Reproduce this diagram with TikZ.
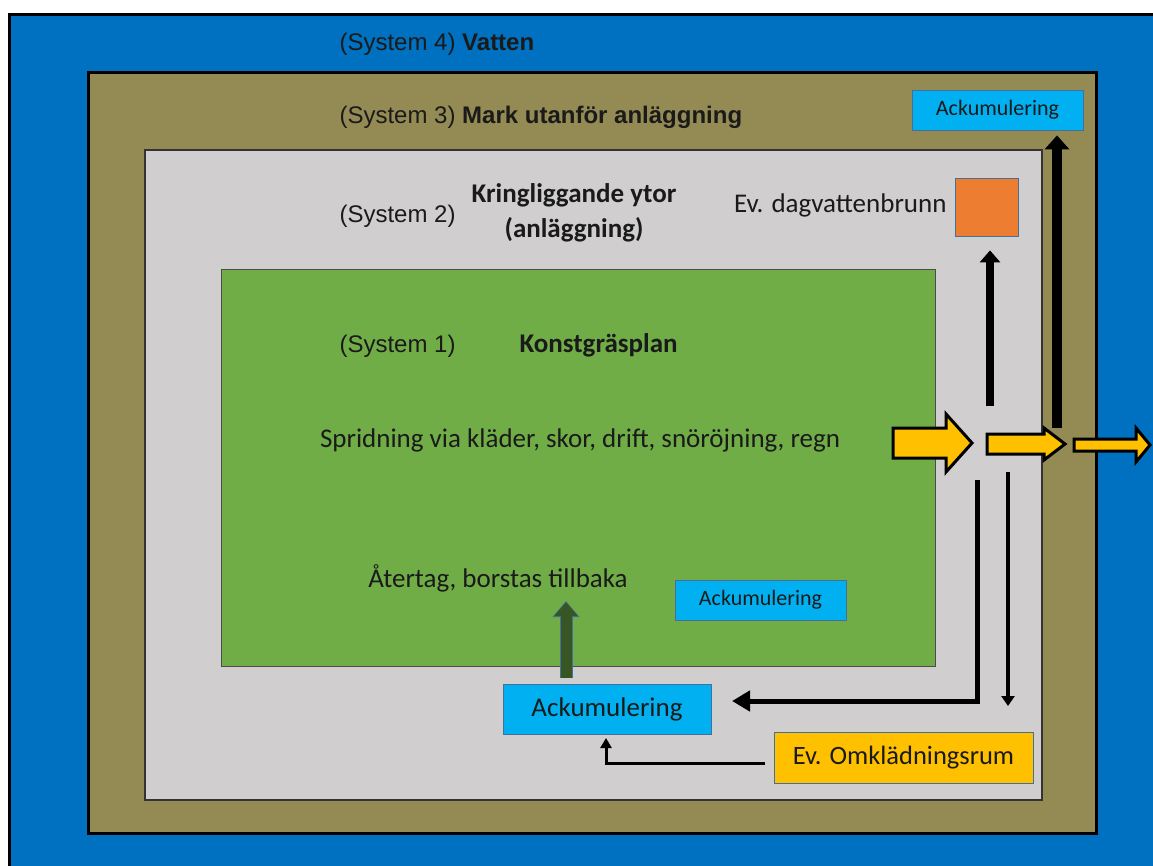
\documentclass[tikz,border=0pt]{standalone}
\usepackage{fontspec}
\setmainfont{Carlito}
\newfontfamily\arialfont{Liberation Sans}
\usetikzlibrary{arrows.meta, positioning, calc}
\definecolor{vatten}{HTML}{0070C0}
\definecolor{mark}{HTML}{948A54}
\definecolor{ytor}{HTML}{D0CECE}
\definecolor{plan}{HTML}{70AD47}
\definecolor{ackblue}{HTML}{00B0F0}
\definecolor{brunn}{HTML}{ED7D31}
\definecolor{omkl}{HTML}{FFC000}
\definecolor{dkgreen}{HTML}{375623}
\definecolor{edgeblue}{HTML}{41719C}
\definecolor{txt}{HTML}{1A1A1A}

% yellow block arrow: tail x, tip x, mid y, shaft half, head half, head length
\newcommand{\flowarrow}[6]{%
  \draw[flowblock] (#1,#3-#4) -- (#2-#6,#3-#4) -- (#2-#6,#3-#5) -- (#2,#3)
    -- (#2-#6,#3+#5) -- (#2-#6,#3+#4) -- (#1,#3+#4) -- cycle;}

\begin{document}
\begin{tikzpicture}[x=1pt, y=-1pt,
  sysfont/.style={font=\arialfont\fontsize{24}{26}\selectfont},
  label/.style={text=txt, font=\fontsize{27}{32}\selectfont},
  ackbox/.style={draw=edgeblue, line width=0.8pt, fill=ackblue, text=txt, inner sep=0pt},
  flowblock/.style={draw=black, fill=omkl, line width=3pt, line join=miter},
  heavyflow/.style={draw=black, -{Triangle[width=24pt, length=14pt]}}]

\useasboundingbox (0,0) rectangle (1153,866);
\clip (0,0) rectangle (1153,866);
\fill[white] (0,0) rectangle (1153,866);

% System 4: Vatten
\draw[fill=vatten, line width=3pt] (9.5,14.5) rectangle (1175,885);
% System 3: Mark
\draw[fill=mark, line width=3pt] (88.5,72.5) rectangle (1096.5,833.5);
% System 2: Kringliggande ytor
\draw[fill=ytor, draw=black!80, line width=1.2pt] (145,150) rectangle (1042,800);
% System 1: Konstgraesplan
\draw[fill=plan, draw=black!70, line width=1pt] (221,270) rectangle (935,666);

% Headings
\node[sysfont, text=txt, anchor=west] (sys4) at (336,44) {(System 4) \textbf{Vatten}};
\node[sysfont, text=txt, anchor=west] (sys3) at (336,117) {(System 3) \textbf{Mark utanför anläggning}};
\node[sysfont, text=txt, anchor=west] (sys2) at (336,216) {(System 2)};
\node[label, font=\fontsize{27}{35}\selectfont\bfseries, align=center] (ytor) at (574,213) {Kringliggande ytor\\(anläggning)};
\node[sysfont, text=txt, anchor=west] (sys1) at (336,346) {(System 1)};
\node[label, font=\fontsize{27}{32}\selectfont\bfseries, anchor=west] (plan) at (516,345) {Konstgräsplan};

% Texts in the field
\node[label] (spridning) at (580,440) {Spridning via kläder, skor, drift, snöröjning, regn};
\node[label] (atertag) at (498,578) {Återtag, borstas tillbaka};

% Boxes
\node[ackbox, minimum width=171pt, minimum height=40pt, font=\fontsize{22}{26}\selectfont] (ackTop) at (997.5,110) {Ackumulering};
\node[draw=edgeblue, line width=0.8pt, fill=brunn, minimum width=63pt, minimum height=58pt] (brunnBox) at (986.5,207) {};
\node[label, anchor=east] (brunnText) at (950,205) {Ev. dagvattenbrunn};
\node[ackbox, minimum width=171pt, minimum height=40pt, font=\fontsize{22}{26}\selectfont] (ackPlan) at (760.5,600) {Ackumulering};
\node[ackbox, minimum width=208pt, minimum height=50pt, font=\fontsize{27}{32}\selectfont] (ackBot) at (607,709) {Ackumulering};
\node[draw=edgeblue, line width=0.8pt, fill=omkl, text=txt, minimum width=259pt, minimum height=51pt, font=\fontsize{26.5}{31}\selectfont] (omklBox) at (903.5,757.5) {Ev. Omklädningsrum};

% Flow coordinates
\coordinate (backStart) at (566,678);
\coordinate (backEnd) at (566,601);
\coordinate (omklOut) at (765,763);
\coordinate (omklIn) at (606,738);
\coordinate (drainStart) at (977,480);
\coordinate (drainEnd) at (732,701);
\coordinate (downStart) at (1008,472);
\coordinate (downEnd) at (1008,706);
\coordinate (brunnStart) at (990,406);
\coordinate (markStart) at (1057,428);

% Return flow into the field
\draw[draw=edgeblue, line width=13pt, -{Triangle[width=26pt, length=16pt]}] (backStart) -- (backEnd);
\draw[draw=dkgreen, line width=11pt, -{Triangle[width=23pt, length=14pt]}] (backStart) -- ([yshift=-1.2pt]backEnd);

% From changing rooms
\draw[line width=3pt, -{Triangle[width=11pt, length=10pt]}] (omklOut) -| (omklIn);

% Collected to Ackumulering
\draw[line width=5pt, -{Triangle[width=20pt, length=18pt]}] (drainStart) |- (drainEnd);
\draw[line width=4pt, -{Triangle[width=13pt, length=10pt]}] (downStart) -- (downEnd);

% Up to dagvattenbrunn and Ackumulering
\draw[line width=8pt, -{Triangle[width=20pt, length=12pt]}] (brunnStart) -- ([yshift=-14pt]brunnBox.south -| brunnStart);
\draw[heavyflow, line width=10pt] (markStart) -- ([yshift=-5pt]ackTop.south -| markStart);

% Outward flow
\flowarrow{893}{972}{443}{15}{29}{26}
\flowarrow{987}{1065}{444}{10}{16}{21}
\flowarrow{1074}{1150}{445}{6}{17}{14}

\end{tikzpicture}
\end{document}
